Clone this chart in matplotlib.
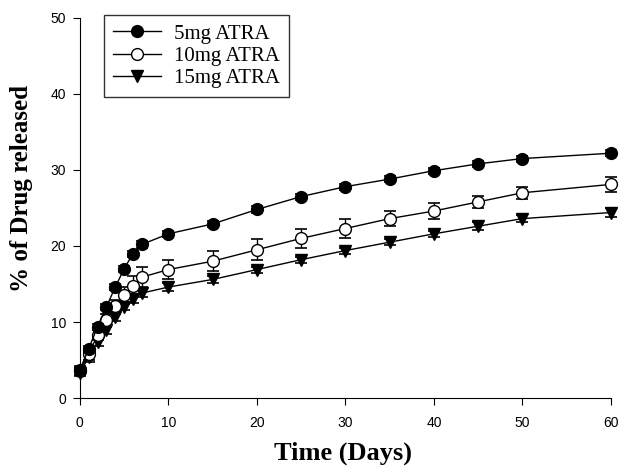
import matplotlib
matplotlib.use("Agg")
import matplotlib.pyplot as plt

# sampling days
days = [0, 1, 2, 3, 4, 5, 6, 7, 10, 15, 20, 25, 30, 35, 40, 45, 50, 60]

# % released
rel_5mg = [3.7, 6.5, 9.4, 12.0, 14.6, 17.0, 19.0, 20.2, 21.6, 22.9, 24.8, 26.5,
           27.8, 28.8, 29.9, 30.8, 31.5, 32.2]
rel_10mg = [3.6, 5.8, 8.3, 10.3, 12.1, 13.6, 14.8, 15.9, 16.9, 18.0, 19.5, 21.0,
            22.3, 23.6, 24.6, 25.8, 27.0, 28.1]
rel_15mg = [3.3, 5.4, 7.4, 8.9, 10.6, 12.0, 13.0, 13.8, 14.6, 15.6, 16.9, 18.2,
            19.4, 20.5, 21.6, 22.6, 23.6, 24.4]

err_5mg = [0.3, 0.4, 0.4, 0.4, 0.4, 0.4, 0.4, 0.4, 0.4, 0.4, 0.4, 0.4,
           0.4, 0.4, 0.4, 0.4, 0.4, 0.4]
err_10mg = [0.6, 0.8, 0.7, 0.7, 0.8, 1.0, 1.2, 1.3, 1.3, 1.3, 1.4, 1.3,
            1.2, 1.0, 1.0, 0.8, 0.8, 1.0]
err_15mg = [0.4, 0.6, 0.5, 0.5, 0.4, 0.4, 0.5, 0.5, 0.5, 0.4, 0.4, 0.4,
            0.4, 0.4, 0.4, 0.5, 0.5, 0.6]

MARKER_SIZE = 8.5
SERIF = "Liberation Serif"
SANS = "Liberation Sans"


def draw(ax):
    kw = dict(color="black", lw=1, capsize=4, elinewidth=1, capthick=1.2)
    e10 = ax.errorbar(days, rel_10mg, yerr=err_10mg, fmt="-o", mfc="white",
                      mec="black", ms=MARKER_SIZE, zorder=3, **kw)
    e15 = ax.errorbar(days, rel_15mg, yerr=err_15mg, fmt="-v",
                      ms=MARKER_SIZE + 0.5, zorder=2, **kw)
    e5 = ax.errorbar(days, rel_5mg, yerr=err_5mg, fmt="-o",
                     ms=MARKER_SIZE, zorder=4, **kw)
    for e in (e5, e10, e15):
        e[0].set_clip_on(False)
        for part in e[1] + e[2]:
            part.set_clip_on(False)

    ax.set_xlim(0, 60)
    ax.set_ylim(0, 50)
    ax.set_xticks(range(0, 61, 10))
    ax.set_yticks(range(0, 51, 10))
    ax.spines["top"].set_visible(False)
    ax.spines["right"].set_visible(False)
    ax.tick_params(direction="out", length=5, labelsize=10)
    ax.tick_params(axis="x", pad=8)
    ax.tick_params(axis="y", pad=5)
    for lab in ax.get_xticklabels() + ax.get_yticklabels():
        lab.set_fontfamily(SANS)

    ax.set_xlabel("Time (Days)", fontsize=19, fontweight="bold", family=SERIF)
    ax.set_ylabel("% of Drug released", fontsize=18, fontweight="bold",
                  family=SERIF)
    ax.xaxis.set_label_coords(0.495, -0.115)
    ax.yaxis.set_label_coords(-0.088, 0.55)

    leg = ax.legend([e5[0], e10[0], e15[0]],
                    ["5mg ATRA", "10mg ATRA", "15mg ATRA"],
                    loc="upper left", bbox_to_anchor=(0.045, 1.008),
                    prop={"family": SERIF, "size": 15}, fancybox=False,
                    edgecolor="black", handlelength=2.3, borderpad=0.45,
                    labelspacing=0.12, handletextpad=0.6, borderaxespad=0)
    leg.get_frame().set_linewidth(1)


fig = plt.figure(figsize=(6.24, 4.70), dpi=100)
ax = fig.add_axes([0.128, 0.153, 0.851, 0.809])
draw(ax)
fig.savefig("out.png", dpi=100)
